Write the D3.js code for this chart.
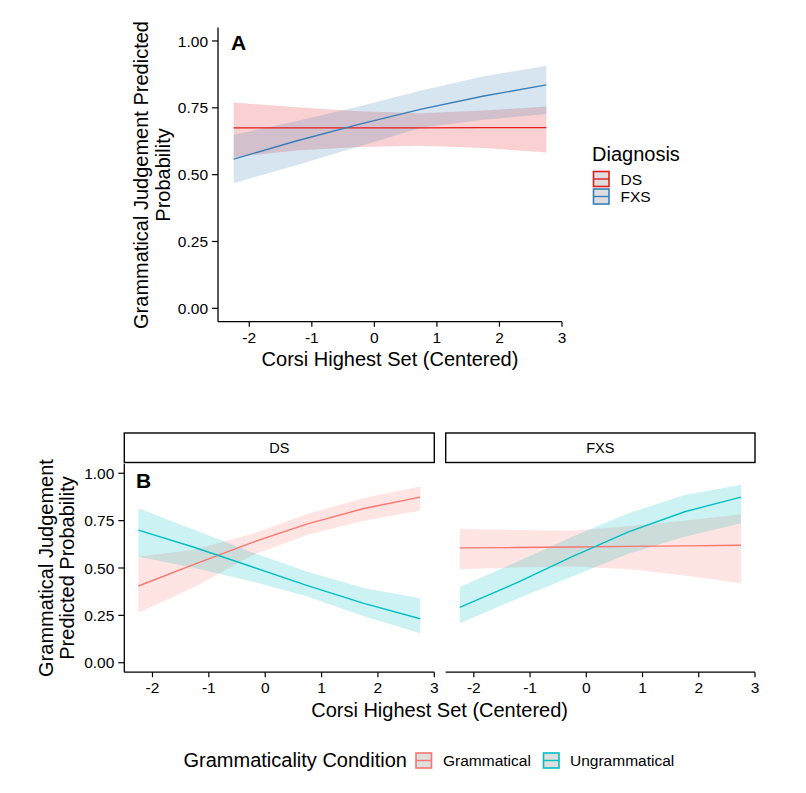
<!DOCTYPE html>
<html>
<head>
<meta charset="utf-8">
<title>Corsi Highest Set - predicted probability</title>
<script src="https://d3js.org/d3.v7.min.js"></script>
<style>
  body { margin: 0; background: #fff; }
  svg text { font-family: "Liberation Sans", Arial, sans-serif; fill: #000; }
</style>
</head>
<body>
<div id="chart"></div>
<script>
// x positions at which the model was evaluated
const corsiX = [-2.25, -1.25, -0.25, 0.75, 1.75, 2.75];

// panel A : diagnosis
const diagnoses = ["DS", "FXS"];
const aDsFit  = [0.675, 0.675, 0.675, 0.675, 0.676, 0.676];
const aDsLo   = [0.566, 0.590, 0.603, 0.608, 0.600, 0.583];
const aDsHi   = [0.770, 0.752, 0.737, 0.730, 0.740, 0.755];
const aFxsFit = [0.558, 0.626, 0.688, 0.745, 0.794, 0.836];
const aFxsLo  = [0.468, 0.535, 0.605, 0.675, 0.705, 0.727];
const aFxsHi  = [0.649, 0.700, 0.755, 0.815, 0.868, 0.907];

// panel B : grammaticality condition, faceted by diagnosis
const conditions = ["Grammatical", "Ungrammatical"];
const bDsGramFit   = [0.405, 0.520, 0.633, 0.733, 0.814, 0.874];
const bDsGramLo    = [0.264, 0.400, 0.565, 0.675, 0.750, 0.803];
const bDsGramHi    = [0.560, 0.597, 0.678, 0.785, 0.870, 0.930];
const bDsUngFit    = [0.700, 0.608, 0.508, 0.407, 0.313, 0.232];
const bDsUngLo     = [0.560, 0.500, 0.430, 0.350, 0.245, 0.155];
const bDsUngHi     = [0.815, 0.700, 0.585, 0.480, 0.395, 0.340];
const bFxsGramFit  = [0.606, 0.608, 0.611, 0.614, 0.617, 0.620];
const bFxsGramLo   = [0.493, 0.503, 0.508, 0.495, 0.460, 0.420];
const bFxsGramHi   = [0.706, 0.700, 0.697, 0.720, 0.750, 0.784];
const bFxsUngFit   = [0.292, 0.420, 0.560, 0.691, 0.797, 0.874];
const bFxsUngLo    = [0.208, 0.335, 0.455, 0.575, 0.665, 0.736];
const bFxsUngHi    = [0.400, 0.530, 0.665, 0.789, 0.885, 0.940];

const yTicks = [0, 0.25, 0.5, 0.75, 1];
const xTicks = [-2, -1, 0, 1, 2, 3];

const W = 806, H = 793;
const svg = d3.select("#chart").append("svg").attr("width", W).attr("height", H);

function toRows(fit, lo, hi) {
  return corsiX.map((x, i) => ({x: x, fit: fit[i], lo: lo[i], hi: hi[i]}));
}

// draws ribbons + lines, returns nothing
function drawSeries(g, x, y, series) {
  const area = d3.area().x(d => x(d.x)).y0(d => y(d.lo)).y1(d => y(d.hi));
  const line = d3.line().x(d => x(d.x)).y(d => y(d.fit));
  series.forEach(s => {
    g.append("path").attr("d", area(s.rows))
      .attr("fill", s.color).attr("fill-opacity", 0.2).attr("stroke", "none");
  });
  series.forEach(s => {
    g.append("path").attr("d", line(s.rows))
      .attr("fill", "none").attr("stroke", s.color).attr("stroke-width", 1.4);
  });
}

function xAxis(g, x, yPos, fs) {
  g.append("line").attr("x1", x.range()[0]).attr("x2", x.range()[1])
    .attr("y1", yPos).attr("y2", yPos).attr("stroke", "#000").attr("stroke-width", 1.3);
  xTicks.forEach(t => {
    g.append("line").attr("x1", x(t)).attr("x2", x(t)).attr("y1", yPos).attr("y2", yPos + 5)
      .attr("stroke", "#000").attr("stroke-width", 1.2);
    g.append("text").attr("x", x(t)).attr("y", yPos + 21).attr("text-anchor", "middle")
      .attr("font-size", fs).text(t);
  });
}

function yAxis(g, y, xPos, fs) {
  g.append("line").attr("x1", xPos).attr("x2", xPos)
    .attr("y1", y.range()[1]).attr("y2", y.range()[0]).attr("stroke", "#000").attr("stroke-width", 1.3);
  yTicks.forEach(t => {
    g.append("line").attr("x1", xPos - 6).attr("x2", xPos).attr("y1", y(t)).attr("y2", y(t))
      .attr("stroke", "#000").attr("stroke-width", 1.2);
    g.append("text").attr("x", xPos - 10).attr("y", y(t)).attr("dy", "0.36em")
      .attr("text-anchor", "end").attr("font-size", fs).text(d3.format(".2f")(t));
  });
}

function keySwatch(g, x0, yc, color) {
  g.append("rect").attr("x", x0).attr("y", yc - 7.5).attr("width", 15.5).attr("height", 15)
    .attr("fill", "#dedede").attr("stroke", color).attr("stroke-width", 1.6);
  g.append("line").attr("x1", x0).attr("x2", x0 + 15.5).attr("y1", yc).attr("y2", yc)
    .attr("stroke", color).attr("stroke-width", 1.4);
}

// ---------------- panel A ----------------
const colA = d3.scaleOrdinal().domain(diagnoses).range(["#E41A1C", "#377EB8"]);
const xA = d3.scaleLinear().domain([-2.5, 3]).range([218, 562]);
const yA = d3.scaleLinear().domain([-0.05, 1.05]).range([321.7, 27.6]);
const gA = svg.append("g");
drawSeries(gA, xA, yA, [
  {color: colA("DS"), rows: toRows(aDsFit, aDsLo, aDsHi)},
  {color: colA("FXS"), rows: toRows(aFxsFit, aFxsLo, aFxsHi)}
]);
yAxis(gA, yA, 218, 15.5);
xAxis(gA, xA, 321.7, 15.5);
gA.append("text").attr("x", 390).attr("y", 366).attr("text-anchor", "middle")
  .attr("font-size", 20).text("Corsi Highest Set (Centered)");
[["Grammatical Judgement Predicted", 141], ["Probability", 163]].forEach(([t, cx]) => {
  gA.append("text").attr("transform", `translate(${cx},175) rotate(-90)`)
    .attr("dy", "0.36em").attr("text-anchor", "middle").attr("font-size", 20).text(t);
});
gA.append("text").attr("x", 231).attr("y", 50).attr("font-size", 21)
  .attr("font-weight", "bold").attr("font-family", "DejaVu Sans, sans-serif").text("A");

// legend A
const lgA = svg.append("g");
lgA.append("text").attr("x", 592).attr("y", 161).attr("font-size", 20).text("Diagnosis");
diagnoses.forEach((d, i) => {
  const yc = 179 + i * 17.5;
  keySwatch(lgA, 593.5, yc, colA(d));
  lgA.append("text").attr("x", 620.5).attr("y", yc + 5.5).attr("font-size", 15.5).text(d);
});

// ---------------- panel B ----------------
const colB = d3.scaleOrdinal().domain(conditions).range(["#F8766D", "#00BFC4"]);
const yB = d3.scaleLinear().domain([-0.05, 1.05]).range([672.2, 463.8]);
const facets = [
  {name: "DS", left: 124.3, right: 434.3, series: [
    {color: colB("Grammatical"), rows: toRows(bDsGramFit, bDsGramLo, bDsGramHi)},
    {color: colB("Ungrammatical"), rows: toRows(bDsUngFit, bDsUngLo, bDsUngHi)}]},
  {name: "FXS", left: 445.7, right: 755, series: [
    {color: colB("Grammatical"), rows: toRows(bFxsGramFit, bFxsGramLo, bFxsGramHi)},
    {color: colB("Ungrammatical"), rows: toRows(bFxsUngFit, bFxsUngLo, bFxsUngHi)}]}
];
const gB = svg.append("g");
facets.forEach((f, i) => {
  const x = d3.scaleLinear().domain([-2.5, 3]).range([f.left, f.right]);
  drawSeries(gB, x, yB, f.series);
  // strip
  gB.append("rect").attr("x", f.left).attr("y", 433).attr("width", f.right - f.left).attr("height", 29.5)
    .attr("fill", "#fff").attr("stroke", "#000").attr("stroke-width", 1.4);
  gB.append("text").attr("x", (f.left + f.right) / 2).attr("y", 448).attr("dy", "0.36em")
    .attr("text-anchor", "middle").attr("font-size", 14.5).text(f.name);
  xAxis(gB, x, 672.2, 15.5);
  if (i === 0) yAxis(gB, yB, f.left, 15.5);
});
gB.append("text").attr("x", 439.6).attr("y", 717).attr("text-anchor", "middle")
  .attr("font-size", 20).text("Corsi Highest Set (Centered)");
[["Grammatical Judgement", 46], ["Predicted Probability", 67]].forEach(([t, cx]) => {
  gB.append("text").attr("transform", `translate(${cx},568) rotate(-90)`)
    .attr("dy", "0.36em").attr("text-anchor", "middle").attr("font-size", 20).text(t);
});
gB.append("text").attr("x", 136).attr("y", 488).attr("font-size", 21)
  .attr("font-weight", "bold").attr("font-family", "DejaVu Sans, sans-serif").text("B");

// legend B (bottom)
const lgB = svg.append("g");
lgB.append("text").attr("x", 183.5).attr("y", 767).attr("font-size", 20).text("Grammaticality Condition");
const keyX = [416, 543.5], labX = [443, 570];
conditions.forEach((c, i) => {
  keySwatch(lgB, keyX[i], 760.5, colB(c));
  lgB.append("text").attr("x", labX[i]).attr("y", 766).attr("font-size", 15.5).text(c);
});
</script>
</body>
</html>
